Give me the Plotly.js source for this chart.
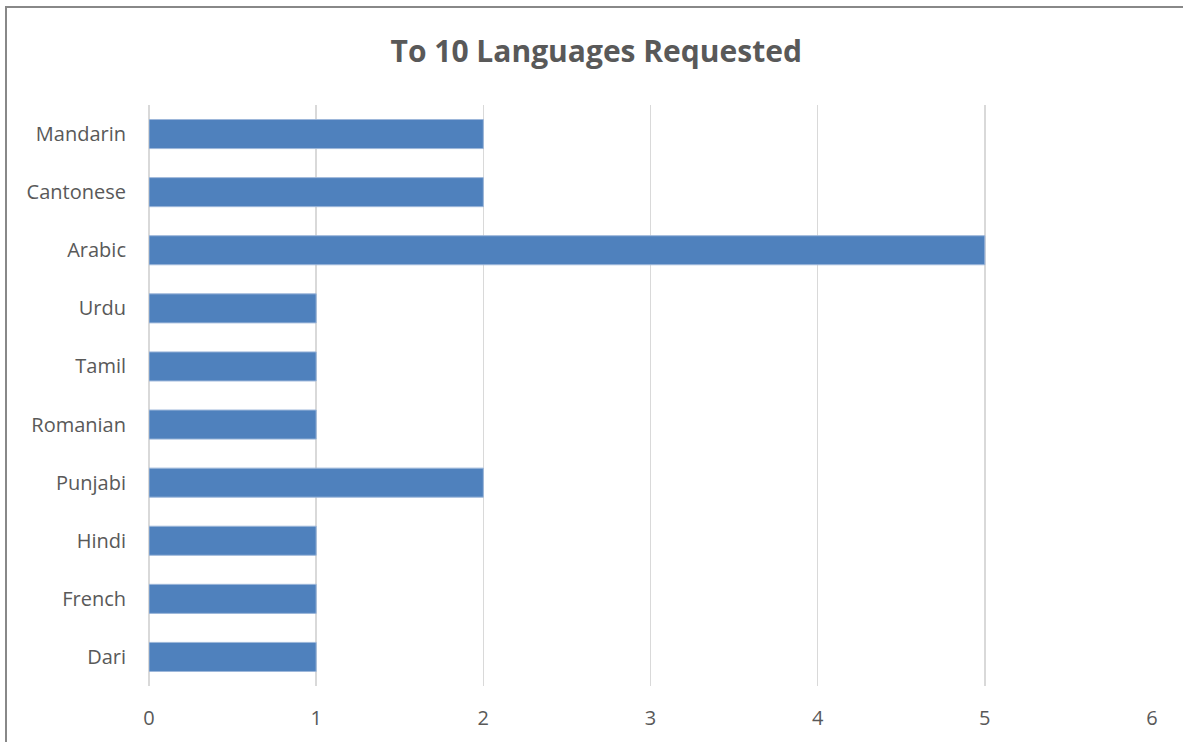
<!DOCTYPE html>
<html>
<head>
<meta charset="utf-8">
<script src="https://cdn.plot.ly/plotly-3.0.1.min.js"></script>
<style>
html,body{margin:0;padding:0;background:#fff;}
#wrap{position:absolute;left:0;top:0;width:1183px;height:742px;}
#frame{position:absolute;left:5px;top:6px;width:1200px;height:800px;border-left:2px solid #888;border-top:2px solid #888;pointer-events:none;}
#chart{position:absolute;left:0;top:0;width:1183px;height:742px;}
</style>
</head>
<body>
<div id="wrap">
<div id="chart"></div>
<div id="frame"></div>
</div>
<script>
const languages = ["Mandarin","Cantonese","Arabic","Urdu","Tamil","Romanian","Punjabi","Hindi","French","Dari"];
const requests = [2,2,5,1,1,1,2,1,1,1];
const xTicks = [0,1,2,3,4,5,6];

const trace = {
  type: 'bar',
  orientation: 'h',
  y: languages,
  x: requests,
  width: 0.5,
  marker: {color: '#4F81BD', line: {color: '#9DB7DA', width: 1}},
  hoverinfo: 'x+y'
};

const layout = {
  width: 1183, height: 742,
  margin: {l: 149, r: 31, t: 105, b: 56},
  paper_bgcolor: '#fff', plot_bgcolor: '#fff',
  font: {family: 'Open Sans, Lato, sans-serif', color: '#595959'},
  title: {text: '<b>To 10 Languages Requested</b>', x: 0.504, xanchor: 'center', y: 0.93, yanchor: 'middle',
          font: {size: 30, color: '#595959', family: 'Open Sans, sans-serif'}},
  xaxis: {range: [0, 6], tickvals: xTicks, showgrid: true, gridcolor: '#D9D9D9', gridwidth: 1.5,
          zeroline: true, zerolinecolor: '#D9D9D9', zerolinewidth: 1.5, showline: false,
          ticks: '', tickfont: {size: 20, color: '#595959'}, ticklabelstandoff: 18, fixedrange: true},
  yaxis: {autorange: 'reversed', type: 'category', showgrid: false, zeroline: false, showline: false,
          ticks: '', tickfont: {size: 20, color: '#595959'}, ticklabelstandoff: 22, fixedrange: true},
  showlegend: false,
  bargap: 0.5
};

Plotly.newPlot('chart', [trace], layout, {displayModeBar: false, staticPlot: true});
</script>
</body>
</html>
